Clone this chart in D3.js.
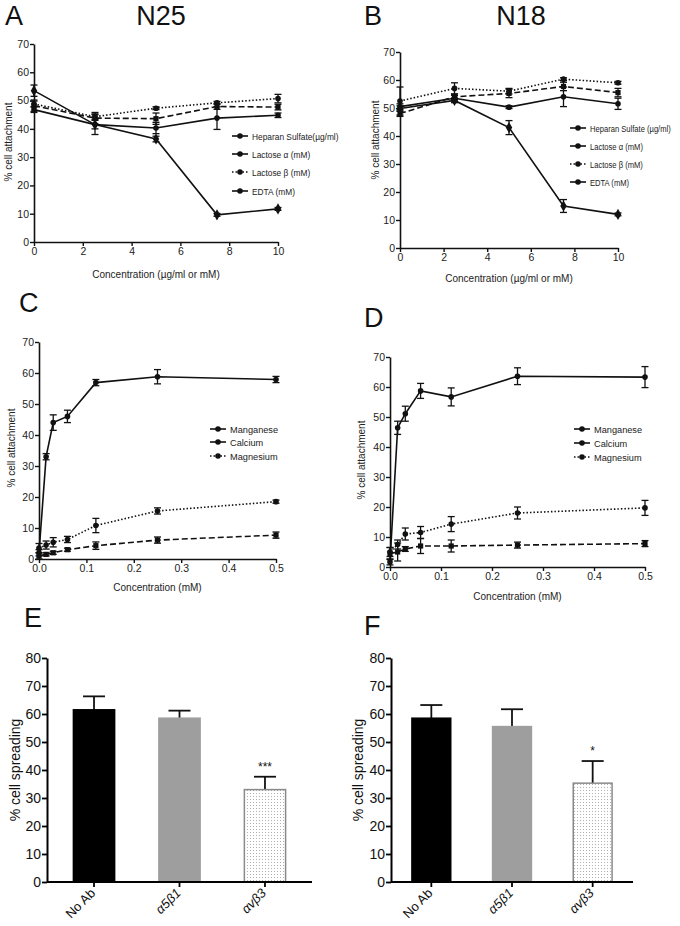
<!DOCTYPE html>
<html><head><meta charset="utf-8">
<script src="https://cdn.jsdelivr.net/npm/d3@7"></script>
<style>body{margin:0;background:#fff}svg{display:block}text{font-family:"Liberation Sans",Arial,sans-serif}</style>
</head><body><svg id="c" width="680" height="926"></svg>
<script>
// ---------- data ----------
const concAB = [0, 2.5, 5, 7.5, 10];
const xTicksAB = [0, 2, 4, 6, 8, 10];
const seriesNamesA = ["Heparan Sulfate(\u00b5g/ml)", "Lactose \u03b1 (mM)", "Lactose \u03b2 (mM)", "EDTA (mM)"];
const seriesNamesB = ["Heparan Sulfate (\u00b5g/ml)", "Lactose \u03b1 (mM)", "Lactose \u03b2 (mM)", "EDTA (mM)"];
const aHeparan = [46.8, 41.5, 40.3, 43.8, 44.8];
const aHeparanErr = [1, 3.5, 2, 4, 0.8];
const aLactA = [48.2, 43.8, 43.6, 47.9, 47.7];
const aLactAErr = [2, 2, 2, 1, 1];
const aLactB = [48.8, 44.3, 47.3, 49.2, 50.7];
const aLactBErr = [1, 1, 0.5, 0.5, 1.5];
const aEDTA = [53.5, 41.5, 36.4, 9.6, 11.7];
const aEDTAErr = [2, 1.5, 1, 0.5, 0.5];

const bHeparan = [50.5, 53.5, 50.3, 54, 51.5];
const bHeparanErr = [1, 1, 0.5, 3.5, 2];
const bLactA = [48, 54, 55.2, 57.7, 55.5];
const bLactAErr = [1, 1, 1.5, 1.5, 1.5];
const bLactB = [52.5, 57, 56, 60.3, 59];
const bLactBErr = [5, 2, 1, 0.5, 0.5];
const bEDTA = [49.8, 52.7, 43, 15, 12];
const bEDTAErr = [1, 0.8, 2.5, 2.3, 0.5];

const concCD = [0, 0.015, 0.03, 0.06, 0.12, 0.25, 0.5];
const xTicksCD = [0, 0.1, 0.2, 0.3, 0.4, 0.5];
const ionNames = ["Manganese", "Calcium", "Magnesium"];
const cMn = [2, 33, 44, 46, 56.9, 58.8, 57.9];
const cMnErr = [1, 1, 2.5, 2, 1, 2.3, 1];
const cCa = [1, 1.5, 2, 3, 4.3, 6.1, 7.7];
const cCaErr = [1, 0.5, 0.5, 0.5, 1.2, 1, 1];
const cMg = [3.5, 4.5, 5.4, 6.3, 10.8, 15.5, 18.5];
const cMgErr = [1.5, 1.3, 1.5, 1, 2.3, 1, 0.5];

const dMn = [1.7, 46.4, 51.1, 58.7, 56.7, 63.6, 63.3];
const dMnErr = [1, 2.2, 2.5, 2.5, 3, 2.8, 3.5];
const dCa = [4.5, 5, 6, 7, 7, 7.3, 7.8];
const dCaErr = [2, 3, 0.8, 2.5, 2, 1, 1];
const dMg = [5, 7.5, 11, 11.5, 14.3, 18, 19.7];
const dMgErr = [1.5, 1.5, 2, 2, 2.5, 2, 2.5];

const antibodies = ["No Ab", "\u03b15\u03b21", "\u03b1v\u03b23"];
const eVals = [61.5, 58.5, 33];
const eErr = [4.8, 2.7, 4.6];
const fVals = [58.5, 55.5, 35.3];
const fErr = [4.7, 6.2, 7.9];
const eSig = "***";
const fSig = "*";

// ---------- drawing ----------
const svg = d3.select("#c");
const defs = svg.append("defs");
const pat = defs.append("pattern").attr("id","dots").attr("width",3).attr("height",3).attr("patternUnits","userSpaceOnUse");
pat.append("rect").attr("width",3).attr("height",3).attr("fill","#fff");
pat.append("rect").attr("x",1).attr("y",1).attr("width",1).attr("height",1).attr("fill","#b0b0b0");

const TXT = "#222";
const dashes = {solid:null, dashed:"6,3", dotted:"1.5,2"};

function panelLetter(t, x, y){
  svg.append("text").attr("x",x).attr("y",y).attr("font-size",27).attr("fill","#111").text(t);
}

function linePanel(cfg){
  const x = d3.scaleLinear().domain(cfg.xDomain).range(cfg.xRange);
  const y = d3.scaleLinear().domain([0,70]).range(cfg.yRange);
  const g = svg.append("g");
  const xa = g.append("g").attr("transform",`translate(0,${cfg.yRange[0]})`)
    .call(d3.axisBottom(x).tickValues(cfg.xTicks).tickSize(4).tickSizeOuter(0).tickFormat(cfg.xFmt));
  const ya = g.append("g").attr("transform",`translate(${cfg.xRange[0]},0)`)
    .call(d3.axisLeft(y).tickValues(d3.range(0,71,10)).tickSize(4).tickSizeOuter(0));
  [xa,ya].forEach(a=>{
    a.select(".domain").attr("stroke","#111").attr("stroke-width",1.6);
    a.selectAll(".tick line").attr("stroke","#111").attr("stroke-width",1.4);
    a.selectAll("text").attr("font-size",10.5).attr("fill",TXT).attr("font-family","Liberation Sans, Arial");
  });
  ya.selectAll("text").attr("x",-5);
  xa.selectAll("text").attr("y",6);
  g.append("text").attr("x",(cfg.xRange[0]+cfg.xRange[1])/2).attr("y",cfg.xTitleY).attr("text-anchor","middle")
    .attr("font-size",10).attr("fill",TXT).text(cfg.xTitle);
  g.append("text").attr("transform",`translate(${cfg.yTitleX},${cfg.yTitleCY}) rotate(-90)`).attr("text-anchor","middle")
    .attr("font-size",10).attr("fill",TXT).text("% cell attachment");
  const line = d3.line().x(d=>x(d[0])).y(d=>y(d[1]));
  cfg.series.forEach(s=>{
    const pts = cfg.xs.map((xv,i)=>[xv,s.vals[i],s.err[i]]);
    g.append("path").attr("d",line(pts)).attr("fill","none").attr("stroke","#111")
      .attr("stroke-width",1.6).attr("stroke-dasharray",dashes[s.style]);
    pts.forEach(p=>{
      const cx=x(p[0]), y1=y(p[1]+p[2]), y2=y(p[1]-p[2]);
      g.append("line").attr("x1",cx).attr("x2",cx).attr("y1",y1).attr("y2",y2).attr("stroke","#111").attr("stroke-width",1.3);
      [y1,y2].forEach(yy=>g.append("line").attr("x1",cx-3.5).attr("x2",cx+3.5).attr("y1",yy).attr("y2",yy).attr("stroke","#111").attr("stroke-width",1.3));
      if(s.marker==="square") g.append("rect").attr("x",cx-2.6).attr("y",y(p[1])-2.6).attr("width",5.2).attr("height",5.2).attr("fill","#111");
      else if(s.marker==="diamond") g.append("path").attr("d",d3.symbol(d3.symbolDiamond,36)()).attr("transform",`translate(${cx},${y(p[1])})`).attr("fill","#111");
      else g.append("circle").attr("cx",cx).attr("cy",y(p[1])).attr("r",2.8).attr("fill","#111");
    });
  });
  // legend
  cfg.series.forEach((s,i)=>{
    const ly = cfg.legY[i];
    g.append("line").attr("x1",cfg.legX-8).attr("x2",cfg.legX+8).attr("y1",ly).attr("y2",ly)
      .attr("stroke","#111").attr("stroke-width",1.6).attr("stroke-dasharray",s.style==="dotted"?"1.5,2":null);
    g.append("circle").attr("cx",cfg.legX).attr("cy",ly).attr("r",2.8).attr("fill","#111");
    g.append("text").attr("transform",`translate(${cfg.legX+12},${ly+3.5}) scale(${cfg.legScale},1)`)
      .attr("font-size",9.5).attr("fill",TXT).text(s.name);
  });
}

// Panel A
panelLetter("A",5,25);
svg.append("text").attr("x",161).attr("y",25).attr("text-anchor","middle").attr("font-size",27).attr("fill","#111").text("N25");
linePanel({xDomain:[0,10],xRange:[34,278],yRange:[242,44],xTicks:xTicksAB,xFmt:d3.format("d"),xs:concAB,
  xTitle:"Concentration (\u00b5g/ml or mM)",xTitleY:278,yTitleX:12,yTitleCY:142,
  legX:240,legY:[136,154,172,191],legScale:0.88,
  series:[
    {name:seriesNamesA[0],vals:aHeparan,err:aHeparanErr,style:"solid",marker:"circle"},
    {name:seriesNamesA[1],vals:aLactA,err:aLactAErr,style:"dashed",marker:"square"},
    {name:seriesNamesA[2],vals:aLactB,err:aLactBErr,style:"dotted",marker:"circle"},
    {name:seriesNamesA[3],vals:aEDTA,err:aEDTAErr,style:"solid",marker:"diamond"}]});

// Panel B
panelLetter("B",364,25);
svg.append("text").attr("x",521).attr("y",25).attr("text-anchor","middle").attr("font-size",27).attr("fill","#111").text("N18");
linePanel({xDomain:[0,10],xRange:[400,618],yRange:[248,52],xTicks:xTicksAB,xFmt:d3.format("d"),xs:concAB,
  xTitle:"Concentration (\u00b5g/ml or mM)",xTitleY:282,yTitleX:379,yTitleCY:140,
  legX:578,legY:[128,146,164,182],legScale:0.8,
  series:[
    {name:seriesNamesB[0],vals:bHeparan,err:bHeparanErr,style:"solid",marker:"circle"},
    {name:seriesNamesB[1],vals:bLactA,err:bLactAErr,style:"dashed",marker:"square"},
    {name:seriesNamesB[2],vals:bLactB,err:bLactBErr,style:"dotted",marker:"circle"},
    {name:seriesNamesB[3],vals:bEDTA,err:bEDTAErr,style:"solid",marker:"diamond"}]});

// Panel C
panelLetter("C",19,312);
linePanel({xDomain:[0,0.5],xRange:[39,276],yRange:[559,342],xTicks:xTicksCD,xFmt:d3.format(".1f"),xs:concCD,
  xTitle:"Concentration (mM)",xTitleY:591,yTitleX:15,yTitleCY:448,
  legX:218,legY:[429,442,456],legScale:0.97,
  series:[
    {name:ionNames[0],vals:cMn,err:cMnErr,style:"solid",marker:"circle"},
    {name:ionNames[1],vals:cCa,err:cCaErr,style:"dashed",marker:"square"},
    {name:ionNames[2],vals:cMg,err:cMgErr,style:"dotted",marker:"circle"}]});

// Panel D
panelLetter("D",364,327);
linePanel({xDomain:[0,0.5],xRange:[390,645],yRange:[567,357],xTicks:xTicksCD,xFmt:d3.format(".1f"),xs:concCD,
  xTitle:"Concentration (mM)",xTitleY:600,yTitleX:365,yTitleCY:460,
  legX:582,legY:[429,443,457],legScale:0.97,
  series:[
    {name:ionNames[0],vals:dMn,err:dMnErr,style:"solid",marker:"circle"},
    {name:ionNames[1],vals:dCa,err:dCaErr,style:"dashed",marker:"square"},
    {name:ionNames[2],vals:dMg,err:dMgErr,style:"dotted",marker:"circle"}]});

// Bar panels
function barPanel(cfg){
  const x = d3.scaleBand().domain(antibodies).range(cfg.xRange).paddingInner(0.5).paddingOuter(cfg.po);
  const y = d3.scaleLinear().domain([0,80]).range([882,658]);
  const g = svg.append("g");
  const fills = ["#000","#9e9e9e","url(#dots)"];
  const strokes = ["#000","#9e9e9e","#8a8a8a"];
  antibodies.forEach((a,i)=>{
    const v=cfg.vals[i], e=cfg.err[i], cx=x(a)+x.bandwidth()/2;
    g.append("line").attr("x1",cx).attr("x2",cx).attr("y1",y(v)).attr("y2",y(v+e)).attr("stroke","#111").attr("stroke-width",1.8);
    g.append("line").attr("x1",cx-11).attr("x2",cx+11).attr("y1",y(v+e)).attr("y2",y(v+e)).attr("stroke","#111").attr("stroke-width",1.8);
    g.append("rect").attr("x",x(a)+0.75).attr("y",y(v)).attr("width",x.bandwidth()-1.5).attr("height",y(0)-y(v))
      .attr("fill",fills[i]).attr("stroke",strokes[i]).attr("stroke-width",1.5);
  });
  const xa = g.append("g").attr("transform","translate(0,882)")
    .call(d3.axisBottom(x).tickSize(5).tickSizeOuter(0));
  xa.select(".domain").attr("d",`M${cfg.xRange[0]},0H${cfg.xRange[1]}`);
  const ya = g.append("g").attr("transform",`translate(${cfg.xRange[0]},0)`)
    .call(d3.axisLeft(y).tickValues(d3.range(0,81,10)).tickSize(5).tickSizeOuter(0));
  [xa,ya].forEach(a=>{
    a.select(".domain").attr("stroke","#000").attr("stroke-width",2);
    a.selectAll(".tick line").attr("stroke","#000").attr("stroke-width",1.8);
  });
  ya.selectAll("text").attr("font-size",14).attr("fill","#111").attr("font-family","Liberation Sans, Arial").attr("x",-6);
  xa.selectAll("text").attr("font-size",13).attr("fill","#111")
    .attr("font-family",(d,i)=>i===0?"Liberation Sans, Arial":"Liberation Serif, serif")
    .attr("font-style",(d,i)=>i===0?"normal":"italic")
    .attr("text-anchor","end").attr("dy",null).attr("y",0)
    .attr("transform","translate(2,12) rotate(-45)");
  g.append("text").attr("transform",`translate(${cfg.yTitleX},770) rotate(-90)`).attr("text-anchor","middle")
    .attr("font-size",14).attr("fill","#111").text("% cell spreading");
  const last = antibodies[2];
  g.append("text").attr("x",x(last)+x.bandwidth()/2).attr("y",y(cfg.vals[2]+cfg.err[2])-6).attr("text-anchor","middle")
    .attr("font-size",12).attr("fill","#111").text(cfg.sig);
}
panelLetter("E",24,627);
barPanel({xRange:[47,312],po:0.3,vals:eVals,err:eErr,sig:eSig,yTitleX:20});
panelLetter("F",364,635);
barPanel({xRange:[391,633],po:0.25,vals:fVals,err:fErr,sig:fSig,yTitleX:363});
</script></body></html>
